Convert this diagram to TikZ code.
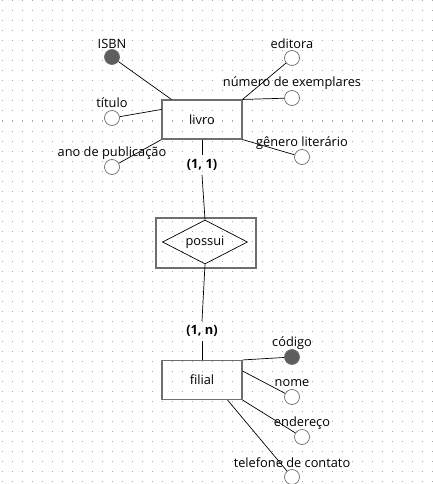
\documentclass[tikz,border=0pt]{standalone}
\usepackage{fontspec}
\setmainfont{Open Sans}
\usetikzlibrary{shapes.geometric}

\definecolor{gridgray}{HTML}{A8A8A8}
\definecolor{edgegray}{HTML}{6E6E6E}
\definecolor{keygray}{HTML}{5E5E5E}

\tikzset{
	entity/.style={draw=edgegray, line width=1.1pt, minimum width=80pt, minimum height=39pt, inner sep=0pt},
	attr/.style={circle, draw=edgegray, fill=white, line width=0.7pt, minimum size=15pt, inner sep=0pt},
	keyattr/.style={attr, fill=keygray},
	lbl/.style={font=\fontsize{12.8}{14}\selectfont, inner sep=0pt},
	card/.style={lbl, font=\bfseries\fontsize{12.8}{14}\selectfont},
	link/.style={draw=black, line width=0.7pt},
}

\begin{document}
\begin{tikzpicture}[x=1pt, y=-1pt]
	\useasboundingbox (0,0) rectangle (433,484);

	% dotted background
	\foreach \i in {0,...,43} {
		\foreach \j in {0,...,48} {
			\fill[gridgray] (2+10*\i-0.5, 1+10*\j-0.5) rectangle ++(1,1);
		}
	}

	% entities
	\node[entity] (livro)  at (202, 119.5) {\fontsize{12.8}{14}\selectfont livro};
	\node[entity] (filial) at (202, 380)   {\fontsize{12.8}{14}\selectfont filial};

	% relationship
	\node[draw=edgegray, line width=1.1pt, minimum width=100pt, minimum height=50pt] (possuibox) at (206, 243) {};
	\node[diamond, draw=black, line width=0.7pt, minimum width=85pt, minimum height=44pt, inner sep=0pt, aspect=1.9] (possui) at (205, 242) {\fontsize{12.8}{14}\selectfont possui};

	% attributes of livro
	\node[keyattr] (isbn)    at (112, 57)  {};
	\node[attr]    (titulo)  at (112, 118) {};
	\node[attr]    (ano)     at (112, 167) {};
	\node[attr]    (editora) at (292, 58)  {};
	\node[attr]    (numex)   at (292, 98)  {};
	\node[attr]    (genero)  at (302, 157) {};

	\node[lbl] at (112, 44)  {ISBN};
	\node[lbl] at (112, 103) {título};
	\node[lbl] at (112, 153) {ano de publicação};
	\node[lbl] at (292, 44)  {editora};
	\node[lbl] at (292, 83)  {número de exemplares};
	\node[lbl] at (302, 143) {gênero literário};

	\draw[link] (isbn) -- ([xshift=10pt]livro.north west);
	\draw[link] (titulo) -- ([yshift=-10pt]livro.north west);
	\draw[link] (ano) -- (livro.south west);
	\draw[link] (editora) -- (livro.north east);
	\draw[link] (numex) -- (livro.north east);
	\draw[link] (genero) -- (livro.south east);

	% attributes of filial
	\node[keyattr] (codigo)   at (292, 357) {};
	\node[attr]    (nome)     at (292, 397) {};
	\node[attr]    (endereco) at (302, 437) {};
	\node[attr]    (telefone) at (292, 477) {};

	\node[lbl] at (292, 343) {código};
	\node[lbl] at (292, 383) {nome};
	\node[lbl] at (302, 423) {endereço};
	\node[lbl] at (292, 463) {telefone de contato};

	\draw[link] (codigo) -- (filial.north east);
	\draw[link] (nome) -- ([yshift=9pt]filial.east);
	\draw[link] (endereco) -- (filial.south east);
	\draw[link] (telefone) -- ([xshift=-15pt]filial.south east);

	% cardinalities
	\node[card] (card1) at (202, 165) {(1, 1)};
	\node[card] (cardn) at (202, 331) {(1, n)};

	\draw[link] (livro.south) -- ([yshift=4pt]card1.north);
	\draw[link] ([yshift=-4pt]card1.south) -- (possui.north);
	\draw[link] (possui.south) -- ([yshift=4pt]cardn.north);
	\draw[link] ([yshift=-4pt]cardn.south) -- (filial.north);
\end{tikzpicture}
\end{document}
